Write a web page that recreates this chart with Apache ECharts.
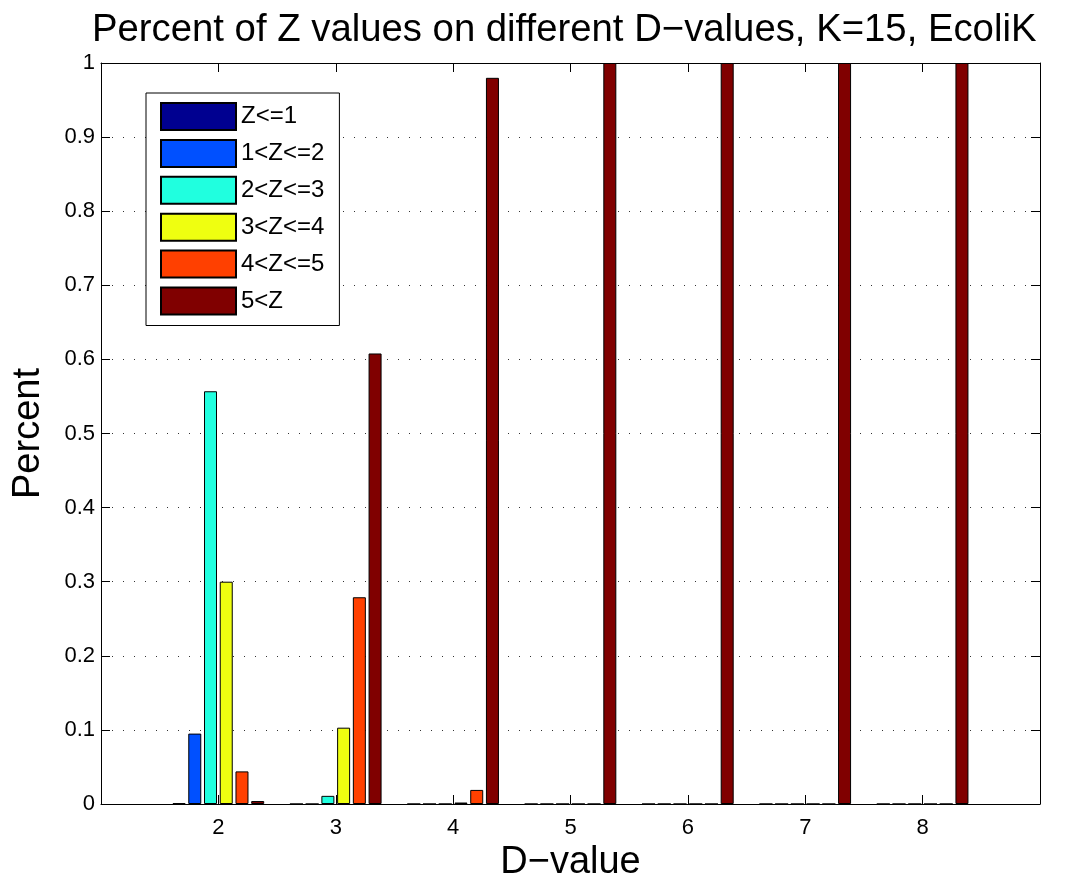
<!DOCTYPE html>
<html>
<head>
<meta charset="utf-8">
<script src="https://cdn.jsdelivr.net/npm/echarts@6/dist/echarts.min.js"></script>
<style>
  html, body { margin: 0; padding: 0; background: #fff; }
  #chart { width: 1066px; height: 878px; }
</style>
</head>
<body>
<div id="chart"></div>
<script>
// D-values on the x axis, one group of bars per value
const dValues = [2, 3, 4, 5, 6, 7, 8];

// share of Z values in each bin
const zLe1 = [0.001, 0, 0, 0, 0, 0, 0];
const z1to2 = [0.095, 0, 0, 0, 0, 0, 0];
const z2to3 = [0.557, 0.011, 0, 0, 0, 0, 0];
const z3to4 = [0.300, 0.103, 0.002, 0, 0, 0, 0];
const z4to5 = [0.044, 0.279, 0.019, 0, 0, 0, 0];
const zGt5 = [0.004, 0.608, 0.980, 1, 1, 1, 1];

const seriesNames = ["Z<=1", "1<Z<=2", "2<Z<=3", "3<Z<=4", "4<Z<=5", "5<Z"];
const seriesValues = [zLe1, z1to2, z2to3, z3to4, z4to5, zGt5];
const seriesColors = ["#000090", "#0050ff", "#20ffdf", "#efff10", "#ff4000", "#800000"];

const FONT = "'Liberation Sans', Arial, Helvetica, sans-serif";

const chart = echarts.init(document.getElementById("chart"), null, { renderer: "canvas" });

const axisLine = { show: true, onZero: false, lineStyle: { color: "#000", width: 1 } };
const axisTickIn = { show: true, inside: true, length: 9, lineStyle: { color: "#000", width: 1 } };

const series = seriesNames.map((name, i) => ({
    name,
    type: "bar",
    xAxisIndex: 0,
    yAxisIndex: 0,
    barWidth: 13,
    barGap: "21%",
    itemStyle: { color: seriesColors[i], borderColor: "#000", borderWidth: 1 },
    data: dValues.map((d, j) => [d, seriesValues[i][j]]),
    animation: false,
}));

chart.setOption({
    backgroundColor: "#fff",
    animation: false,
    textStyle: { fontFamily: FONT },
    grid: {
        left: 101,
        right: 26,
        top: 63,
        bottom: 74,
        containLabel: false,
        outerBoundsMode: "none",
    },
    graphic: [
        {
            type: "text",
            left: 92,
            top: 11,
            style: {
                text: "Percent of Z values on different D\u2212values, K=15, EcoliK",
                font: "38.3px " + FONT,
                fill: "#000",
            },
        },
    ],
    legend: {
        orient: "vertical",
        left: 146,
        top: 93,
        padding: [9, 15, 10, 14],
        itemWidth: 75,
        itemHeight: 27,
        itemGap: 7.9,
        icon: "rect",
        borderColor: "#000",
        borderWidth: 1,
        backgroundColor: "#fff",
        textStyle: { fontSize: 24, lineHeight: 27, color: "#000", fontFamily: FONT },
        data: seriesNames,
    },
    xAxis: [
        {
            type: "value",
            min: 1,
            max: 9,
            interval: 1,
            name: "D\u2212value",
            nameLocation: "middle",
            nameGap: 39,
            nameTextStyle: { fontSize: 38, color: "#000", fontFamily: FONT },
            axisLine,
            axisTick: axisTickIn,
            axisLabel: {
                color: "#000",
                fontSize: 22,
                margin: 13,
                formatter: (v) => (dValues.includes(v) ? String(v) : ""),
            },
            splitLine: { show: false },
        },
        {
            type: "value",
            position: "top",
            min: 1,
            max: 9,
            interval: 1,
            axisLine,
            axisTick: axisTickIn,
            axisLabel: { show: false },
            splitLine: { show: false },
        },
    ],
    yAxis: [
        {
            type: "value",
            min: 0,
            max: 1,
            interval: 0.1,
            name: "Percent",
            nameLocation: "middle",
            nameGap: 53,
            nameTextStyle: { fontSize: 38, color: "#000", fontFamily: FONT },
            axisLine,
            axisTick: axisTickIn,
            axisLabel: { color: "#000", fontSize: 22, margin: 6 },
            splitLine: { show: true, lineStyle: { color: "#333", width: 1, type: [1, 10] } },
        },
        {
            type: "value",
            position: "right",
            min: 0,
            max: 1,
            interval: 0.1,
            axisLine,
            axisTick: axisTickIn,
            axisLabel: { show: false },
            splitLine: { show: false },
        },
    ],
    series,
});
</script>
</body>
</html>
